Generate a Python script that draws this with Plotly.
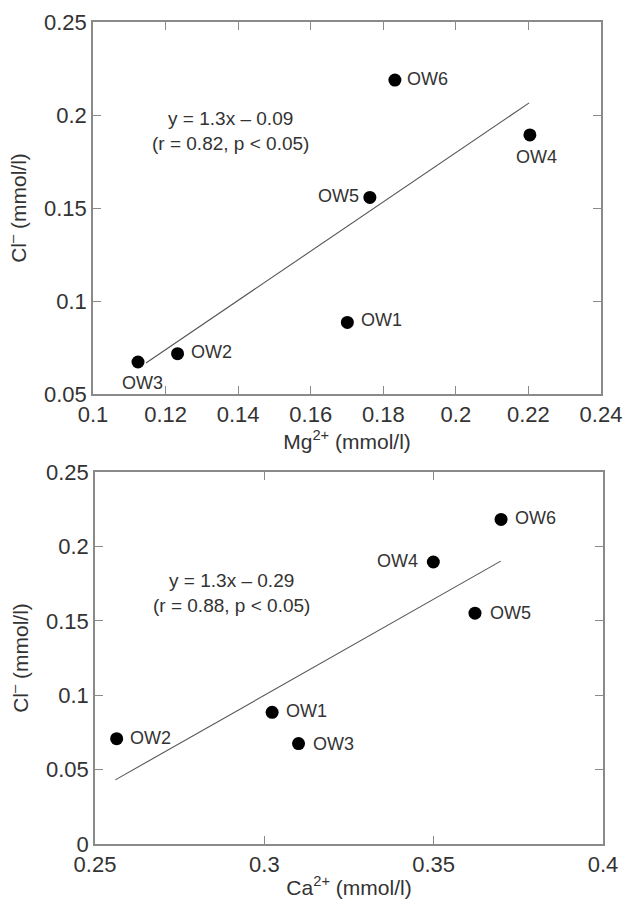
import plotly.graph_objects as go

# ---- data: top panel (Mg2+ vs Cl-) ----
wells = ["OW1", "OW2", "OW3", "OW4", "OW5", "OW6"]
mg = [0.1701, 0.1233, 0.1124, 0.2204, 0.1763, 0.1832]
cl_top = [0.0885, 0.0717, 0.0672, 0.1893, 0.1557, 0.2188]
fit_top_x = [0.1146, 0.2202]
fit_top_y = [0.0667, 0.2065]

# ---- data: bottom panel (Ca2+ vs Cl-) ----
ca = [0.3023, 0.2564, 0.3101, 0.3499, 0.3622, 0.3699]
cl_bot = [0.0885, 0.0708, 0.0675, 0.1895, 0.1551, 0.2181]
fit_bot_x = [0.256, 0.3698]
fit_bot_y = [0.0431, 0.1901]

# ---- ticks ----
top_xticks = [0.1, 0.12, 0.14, 0.16, 0.18, 0.2, 0.22, 0.24]
top_xtext = ["0.1", "0.12", "0.14", "0.16", "0.18", "0.2", "0.22", "0.24"]
top_yticks = [0.05, 0.1, 0.15, 0.2, 0.25]
top_ytext = ["0.05", "0.1", "0.15", "0.2", "0.25"]
bot_xticks = [0.25, 0.3, 0.35, 0.4]
bot_xtext = ["0.25", "0.3", "0.35", "0.4"]
bot_yticks = [0, 0.05, 0.1, 0.15, 0.2, 0.25]
bot_ytext = ["0", "0.05", "0.1", "0.15", "0.2", "0.25"]

# label placement: (xanchor, yanchor, xshift, yshift)
top_label_pos = {
    "OW1": ("left", "middle", 12, 2),
    "OW2": ("left", "middle", 11, 2),
    "OW3": ("center", "top", 5, -9),
    "OW4": ("center", "top", 7, -10),
    "OW5": ("right", "middle", -9, 1),
    "OW6": ("left", "middle", 10, 1),
}
bot_label_pos = {
    "OW1": ("left", "middle", 12, 1),
    "OW2": ("left", "middle", 11, 1),
    "OW3": ("left", "middle", 12, 0),
    "OW4": ("right", "middle", -13, 1),
    "OW5": ("left", "middle", 13, 0),
    "OW6": ("left", "middle", 12, 1),
}

FONT = "Liberation Sans, Arial, sans-serif"
TXT = "#333333"
FRAME = "#8a8a8a"

fig = go.Figure()

fig.add_trace(go.Scatter(x=fit_top_x, y=fit_top_y, mode="lines",
                         line=dict(color="#555555", width=1.1),
                         xaxis="x", yaxis="y", showlegend=False))
fig.add_trace(go.Scatter(x=mg, y=cl_top, mode="markers",
                         marker=dict(color="black", size=13),
                         xaxis="x", yaxis="y", showlegend=False))
fig.add_trace(go.Scatter(x=fit_bot_x, y=fit_bot_y, mode="lines",
                         line=dict(color="#555555", width=1.1),
                         xaxis="x2", yaxis="y2", showlegend=False))
fig.add_trace(go.Scatter(x=ca, y=cl_bot, mode="markers",
                         marker=dict(color="black", size=13),
                         xaxis="x2", yaxis="y2", showlegend=False))

annotations = []
for w, xv, yv in zip(wells, mg, cl_top):
    xa, ya, xs, ys = top_label_pos[w]
    annotations.append(dict(x=xv, y=yv, xref="x", yref="y", text=w,
                            showarrow=False, xanchor=xa, yanchor=ya,
                            xshift=xs, yshift=ys,
                            font=dict(family=FONT, size=18, color=TXT)))
for w, xv, yv in zip(wells, ca, cl_bot):
    xa, ya, xs, ys = bot_label_pos[w]
    annotations.append(dict(x=xv, y=yv, xref="x2", yref="y2", text=w,
                            showarrow=False, xanchor=xa, yanchor=ya,
                            xshift=xs, yshift=ys,
                            font=dict(family=FONT, size=18, color=TXT)))

annotations.append(dict(x=0.1379, y=0.1916, xref="x", yref="y",
                        text="y = 1.3x – 0.09<br>(r = 0.82, p < 0.05)",
                        showarrow=False, align="center",
                        font=dict(family=FONT, size=19, color=TXT)))
annotations.append(dict(x=0.2904, y=0.1685, xref="x2", yref="y2",
                        text="y = 1.3x – 0.29<br>(r = 0.88, p < 0.05)",
                        showarrow=False, align="center",
                        font=dict(family=FONT, size=19, color=TXT)))

W, H = 629, 902

def axis_common():
    return dict(showline=True, mirror="ticks", linecolor=FRAME, linewidth=1.5,
                ticks="inside", ticklen=8, tickwidth=1.2, tickcolor=FRAME,
                showgrid=False, zeroline=False, automargin=False,
                tickfont=dict(family=FONT, size=22, color=TXT))

xa1 = axis_common()
xa1.update(domain=[93 / W, 601 / W], range=[0.1, 0.24], anchor="y",
           tickvals=top_xticks, ticktext=top_xtext,
           title=dict(text="Mg<sup>2+</sup> (mmol/l)",
                      font=dict(family=FONT, size=21, color=TXT), standoff=4))
ya1 = axis_common()
ya1.update(domain=[1 - 394 / H, 1 - 22 / H], range=[0.05, 0.25], anchor="x",
           tickvals=top_yticks, ticktext=top_ytext,
           title=dict(text="Cl<sup>–</sup> (mmol/l)",
                      font=dict(family=FONT, size=21, color=TXT), standoff=12))
xa2 = axis_common()
xa2.update(domain=[95 / W, 603 / W], range=[0.25, 0.4], anchor="y2",
           tickvals=bot_xticks, ticktext=bot_xtext,
           title=dict(text="Ca<sup>2+</sup> (mmol/l)",
                      font=dict(family=FONT, size=21, color=TXT), standoff=4))
ya2 = axis_common()
ya2.update(domain=[1 - 844 / H, 1 - 472 / H], range=[0, 0.25], anchor="x2",
           tickvals=bot_yticks, ticktext=bot_ytext,
           title=dict(text="Cl<sup>–</sup> (mmol/l)",
                      font=dict(family=FONT, size=21, color=TXT), standoff=12))

fig.update_layout(
    width=W, height=H,
    margin=dict(l=0, r=0, t=0, b=0),
    paper_bgcolor="white", plot_bgcolor="white",
    xaxis=xa1, yaxis=ya1, xaxis2=xa2, yaxis2=ya2,
    annotations=annotations,
    showlegend=False,
)

fig.write_html("out.html",
               config={"displayModeBar": False},
               post_script="document.body.style.margin='0';"
                           "document.body.style.overflow='hidden';")
